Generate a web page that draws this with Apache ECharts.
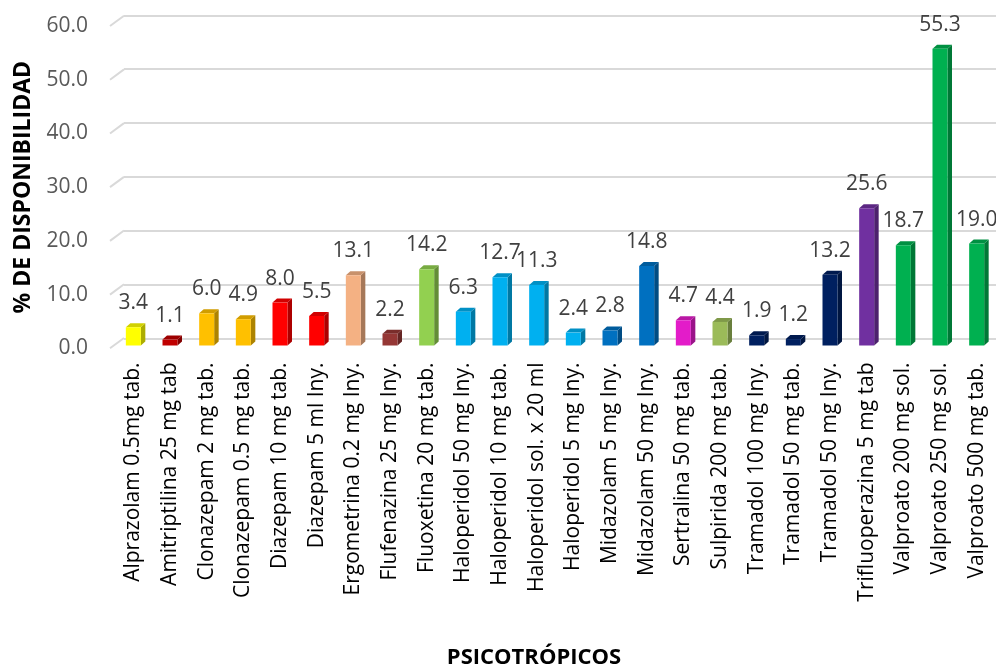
<!DOCTYPE html>
<html>
<head>
<meta charset="utf-8">
<script src="https://cdn.jsdelivr.net/npm/echarts@6/dist/echarts.min.js"></script>
<style>
  html, body { margin: 0; padding: 0; background: #ffffff; }
  #chart { width: 996px; height: 667px; }
</style>
</head>
<body>
<div id="chart"></div>
<script>
// Psicotrópicos: % de disponibilidad
const categories = [
  'Alprazolam 0.5mg tab.', 'Amitriptilina 25 mg tab', 'Clonazepam 2 mg tab.',
  'Clonazepam 0.5 mg tab.', 'Diazepam 10 mg tab.', 'Diazepam 5 ml Iny.',
  'Ergometrina 0.2 mg Iny.', 'Flufenazina 25 mg Iny.', 'Fluoxetina 20 mg tab.',
  'Haloperidol 50 mg Iny.', 'Haloperidol 10 mg tab.', 'Haloperidol sol. x 20 ml',
  'Haloperidol 5 mg Iny.', 'Midazolam 5 mg Iny.', 'Midazolam 50 mg Iny.',
  'Sertralina 50 mg tab.', 'Sulpirida 200 mg tab.', 'Tramadol 100 mg Iny.',
  'Tramadol 50 mg tab.', 'Tramadol 50 mg Iny.', 'Trifluoperazina 5 mg tab',
  'Valproato 200 mg sol.', 'Valproato 250 mg sol.', 'Valproato 500 mg tab.'
];
const values = [
  3.4, 1.1, 6.0, 4.9, 8.0, 5.5, 13.1, 2.2, 14.2, 6.3, 12.7, 11.3,
  2.4, 2.8, 14.8, 4.7, 4.4, 1.9, 1.2, 13.2, 25.6, 18.7, 55.3, 19.0
];
const barColors = [
  '#FFFF00', '#C00000', '#FFC000', '#FFC000', '#FF0000', '#FF0000',
  '#F4B183', '#953735', '#92D050', '#00B0F0', '#00B0F0', '#00B0F0',
  '#00B0F0', '#0070C0', '#0070C0', '#E31CC9', '#9BBB59', '#002060',
  '#002060', '#002060', '#7030A0', '#00B050', '#00B050', '#00B050'
];
const yTicks = [0, 10, 20, 30, 40, 50, 60];

const FONT = '"Open Sans", "Noto Sans", sans-serif';
// depth of the bar prisms and of the floor/back wall
const BAR_W = 15, BAR_DX = 4.5, BAR_DY = 4;
const WALL_DX = 14, WALL_DY = 10.3;

function shade(hex, f) {
  const n = parseInt(hex.slice(1), 16);
  const r = Math.round(((n >> 16) & 255) * f);
  const g = Math.round(((n >> 8) & 255) * f);
  const b = Math.round((n & 255) * f);
  return 'rgb(' + r + ',' + g + ',' + b + ')';
}

const chart = echarts.init(document.getElementById('chart'), null, { renderer: 'canvas' });

const option = {
  backgroundColor: '#ffffff',
  animation: false,
  grid: [
    // front plane: value labels of the axis
    { left: 110, top: 26, width: 880, height: 322.3 },
    // bar plane
    { left: 115, right: 1, top: 23.6, height: 321.9 },
    // back wall: gridlines
    { left: 124, right: 0, top: 15.3, height: 323 }
  ],
  xAxis: [
    { gridIndex: 0, type: 'value', min: 0, max: 1, show: false },
    {
      gridIndex: 1, type: 'category', data: categories,
      axisLine: { show: false }, axisTick: { show: false },
      axisLabel: {
        rotate: 90, interval: 0, margin: 17,
        color: '#000000', fontFamily: FONT, fontSize: 21
      }
    },
    { gridIndex: 2, type: 'value', min: 0, max: 1, show: false }
  ],
  yAxis: [
    {
      gridIndex: 0, type: 'value', min: 0, max: 60, interval: 10,
      axisLine: { show: false }, axisTick: { show: false },
      splitLine: { show: false },
      axisLabel: {
        margin: 22, color: '#595959', fontFamily: FONT, fontSize: 21,
        formatter: v => v.toFixed(1)
      },
      name: '% DE DISPONIBILIDAD', nameLocation: 'middle', nameGap: 75,
      nameRotate: 90,
      nameTextStyle: { color: '#000000', fontFamily: FONT, fontSize: 23, fontWeight: 'bold' }
    },
    {
      gridIndex: 1, type: 'value', min: 0, max: 60, interval: 10,
      show: false
    },
    {
      gridIndex: 2, type: 'value', min: 0, max: 60, interval: 10,
      axisLine: { show: false }, axisTick: { show: false }, axisLabel: { show: false },
      splitLine: { show: true, lineStyle: { color: '#D9D9D9', width: 2 } }
    }
  ],
  graphic: [{
    type: 'text', x: 534, y: 658,
    style: {
      text: 'PSICOTRÓPICOS', fill: '#000000',
      font: 'bold 22px ' + FONT, align: 'center', verticalAlign: 'middle'
    }
  }],
  series: [
    {
      // floor/wall edges on the left side
      type: 'custom', xAxisIndex: 0, yAxisIndex: 0, silent: true,
      data: yTicks.map(t => [0, t]),
      renderItem: function (params, api) {
        const p = api.coord([0, api.value(1)]);
        return {
          type: 'line',
          shape: { x1: p[0], y1: p[1], x2: p[0] + WALL_DX, y2: p[1] - WALL_DY },
          style: { stroke: '#D9D9D9', lineWidth: 2 }
        };
      }
    },
    {
      // 3D-style columns with value labels
      type: 'custom', xAxisIndex: 1, yAxisIndex: 1, silent: true, z: 5,
      data: values.map((v, i) => [i, v]),
      renderItem: function (params, api) {
        const i = api.value(0), v = api.value(1);
        const base = api.coord([i, 0]);
        const top = api.coord([i, v]);
        const x0 = base[0] - BAR_W / 2, x1 = x0 + BAR_W;
        const yt = top[1], yb = base[1];
        const c = barColors[i];
        return {
          type: 'group',
          children: [
            {
              type: 'polygon',
              shape: { points: [[x1, yt], [x1 + BAR_DX, yt - BAR_DY], [x1 + BAR_DX, yb - BAR_DY], [x1, yb]] },
              style: { fill: shade(c, 0.68) }
            },
            {
              type: 'polygon',
              shape: { points: [[x0, yt], [x0 + BAR_DX, yt - BAR_DY], [x1 + BAR_DX, yt - BAR_DY], [x1, yt]] },
              style: { fill: shade(c, 0.82) }
            },
            {
              type: 'rect',
              shape: { x: x0, y: yt, width: BAR_W, height: yb - yt },
              style: { fill: c }
            },
            {
              type: 'text',
              x: base[0], y: yt - 24,
              style: {
                text: v.toFixed(1), fill: '#404040',
                font: '21px ' + FONT, align: 'center', verticalAlign: 'middle'
              }
            }
          ]
        };
      }
    }
  ]
};

chart.setOption(option);
</script>
</body>
</html>
